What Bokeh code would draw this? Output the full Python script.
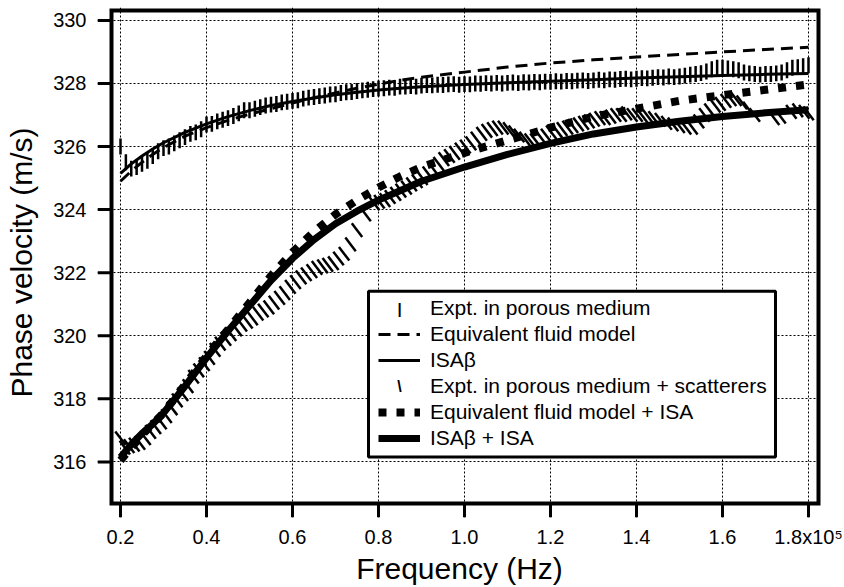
import numpy as np
from bokeh.plotting import figure
from bokeh.models import Legend, LegendItem, Range1d, Label, BoxAnnotation
from bokeh.embed import file_html
from bokeh.resources import INLINE

# ---- axis ticks ----
x_ticks = [0.2, 0.4, 0.6, 0.8, 1.0, 1.2, 1.4, 1.6, 1.8]
x_tick_labels = ["0.2", "0.4", "0.6", "0.8", "1.0", "1.2", "1.4", "1.6", "1.8x10\u2075"]
y_ticks = [316, 318, 320, 322, 324, 326, 328, 330]

# ---- model curves (frequency in 1e5 Hz) ----
model_freq = [0.2, 0.225, 0.25, 0.275, 0.3, 0.35, 0.4, 0.45, 0.5, 0.55, 0.6, 0.65, 0.7,
              0.75, 0.8, 0.85, 0.9, 1.0, 1.1, 1.2, 1.3, 1.4, 1.5, 1.6, 1.7, 1.8]
equivalent_fluid = [324.9, 325.22, 325.5, 325.75, 325.97, 326.33, 326.6, 326.83, 327.03, 327.2,
                    327.38, 327.55, 327.7, 327.85, 327.98, 328.1, 328.2, 328.36, 328.52, 328.65,
                    328.75, 328.84, 328.92, 329.0, 329.08, 329.15]
isa_beta = [325.15, 325.45, 325.7, 325.92, 326.12, 326.45, 326.72, 326.95, 327.14, 327.3,
            327.43, 327.54, 327.64, 327.72, 327.79, 327.85, 327.9, 327.97, 328.02, 328.07,
            328.12, 328.17, 328.21, 328.25, 328.29, 328.32]
equivalent_fluid_isa = [316.05, 316.45, 316.85, 317.2, 317.55, 318.45, 319.35, 320.2, 321.05, 321.9,
                        322.65, 323.3, 323.85, 324.3, 324.7, 325.05, 325.35, 325.8, 326.2, 326.6,
                        326.95, 327.2, 327.45, 327.63, 327.8, 327.97]
isa_beta_isa = [316.15, 316.55, 316.9, 317.2, 317.55, 318.4, 319.3, 320.15, 320.95, 321.75,
                322.45, 323.05, 323.55, 323.95, 324.3, 324.6, 324.9, 325.35, 325.75, 326.1,
                326.4, 326.62, 326.8, 326.95, 327.07, 327.17]

# ---- experiment in porous medium ----
expt_porous_freq = [round(0.2 + 0.0125 * i, 4) for i in range(129)]
expt_porous = [
    326.0, 325.5, 325.3, 325.35, 325.45, 325.55, 325.7, 325.85,
    325.95, 326.0, 326.1, 326.2, 326.3, 326.4, 326.45, 326.55,
    326.7, 326.72, 326.8, 326.85, 326.9, 326.97, 327.05, 327.15,
    327.15, 327.2, 327.25, 327.3, 327.33, 327.35, 327.4, 327.42,
    327.45, 327.47, 327.52, 327.55, 327.57, 327.6, 327.62, 327.65,
    327.66, 327.7, 327.72, 327.73, 327.76, 327.78, 327.8, 327.82,
    327.84, 327.85, 327.87, 327.86, 327.9, 327.9, 327.92, 327.9,
    327.93, 327.95, 327.94, 327.96, 327.95, 327.97, 327.98, 327.96,
    327.98, 327.97, 328.0, 327.99, 328.01, 328.0, 328.02, 328.0,
    328.02, 328.03, 328.01, 328.04, 328.03, 328.05, 328.04, 328.06,
    328.05, 328.07, 328.06, 328.08, 328.07, 328.09, 328.1, 328.08,
    328.1, 328.12, 328.1, 328.13, 328.12, 328.14, 328.15, 328.13,
    328.15, 328.17, 328.16, 328.18, 328.2, 328.19, 328.22, 328.2,
    328.22, 328.25, 328.28, 328.3, 328.33, 328.38, 328.45, 328.5,
    328.5, 328.48, 328.45, 328.42, 328.35, 328.32, 328.3, 328.28,
    328.3, 328.3, 328.32, 328.35, 328.42, 328.5, 328.52, 328.55,
    328.58]

# ---- experiment in porous medium + scatterers ----
expt_scat_freq = [
    0.200, 0.210, 0.220, 0.232, 0.245, 0.258, 0.270, 0.282, 0.295, 0.307,
    0.320, 0.332, 0.345, 0.357, 0.370, 0.382, 0.395, 0.407, 0.420, 0.432,
    0.445, 0.457, 0.470, 0.482, 0.495, 0.507, 0.520, 0.532, 0.545, 0.557,
    0.570, 0.582, 0.595, 0.607, 0.620, 0.632, 0.645, 0.657, 0.670, 0.682,
    0.695, 0.707, 0.720, 0.735, 0.750, 0.770, 0.790, 0.802, 0.815, 0.827,
    0.840, 0.852, 0.865, 0.877, 0.890, 0.902, 0.915, 0.927, 0.940, 0.952,
    0.965, 0.977, 0.990, 1.002, 1.015, 1.027, 1.040, 1.052, 1.065, 1.077,
    1.090, 1.102, 1.115, 1.127, 1.140, 1.152, 1.165, 1.177, 1.190, 1.202,
    1.215, 1.227, 1.240, 1.252, 1.265, 1.277, 1.290, 1.302, 1.315, 1.327,
    1.340, 1.352, 1.365, 1.377, 1.390, 1.402, 1.415, 1.427, 1.440, 1.455,
    1.470, 1.485, 1.500, 1.515, 1.530, 1.545, 1.558, 1.570, 1.583, 1.595,
    1.608, 1.620, 1.632, 1.645, 1.660, 1.675, 1.720, 1.735, 1.760, 1.775,
    1.790, 1.800]
expt_scat = [
    316.75, 316.45, 316.5, 316.55, 316.6, 316.75, 316.95, 317.1, 317.25, 317.45,
    317.7, 317.95, 318.15, 318.4, 318.7, 318.9, 319.1, 319.3, 319.55, 319.75,
    319.9, 320.05, 320.2, 320.35, 320.45, 320.55, 320.7, 320.8, 320.9, 321.05,
    321.2, 321.35, 321.55, 321.7, 321.85, 321.95, 322.05, 322.15, 322.2, 322.25,
    322.3, 322.45, 322.6, 322.9, 323.35, 323.85, 324.2, 324.25, 324.3, 324.4,
    324.5, 324.6, 324.7, 324.8, 324.9, 325.0, 325.15, 325.3, 325.45, 325.6,
    325.7, 325.8, 325.9, 326.0, 326.1, 326.25, 326.4, 326.5, 326.55, 326.6,
    326.6, 326.55, 326.45, 326.35, 326.25, 326.2, 326.2, 326.3, 326.35, 326.45,
    326.5, 326.55, 326.6, 326.65, 326.7, 326.75, 326.8, 326.85, 326.9, 326.9,
    326.95, 327.0, 327.0, 327.05, 327.0, 327.0, 326.95, 326.95, 326.9, 326.85,
    326.75, 326.7, 326.65, 326.6, 326.6, 326.8, 327.0, 327.15, 327.3, 327.35,
    327.45, 327.5, 327.5, 327.4, 327.2, 327.0, 326.9, 326.95, 327.1, 327.15,
    327.1, 327.05]

# ---- geometry ----
# The Bokeh frame reaches 14 px beyond the drawn box on the left and bottom so that
# the outward ticks and the box itself can be drawn as glyphs inside it.
TICK = 14
X0, X1 = 0.14651, 1.83023          # frame (incl. tick band)
Y0, Y1 = 314.2362, 330.4094
BOX_X0, BOX_X1 = 0.17907, 1.82326  # drawn plot box
BOX_Y0, BOX_Y1 = 314.6772, 330.315
FRAME_W, FRAME_H = 844 - 97 - 23, 587 - 7 - 66

p = figure(width=844, height=587,
           x_range=Range1d(X0, X1), y_range=Range1d(Y0, Y1),
           output_backend="svg", toolbar_location=None,
           min_border_left=97, min_border_right=23, min_border_top=7, min_border_bottom=66,
           x_axis_label="Frequency (Hz)", y_axis_label="Phase velocity (m/s)")
p.outline_line_color = None

p.xaxis.ticker = x_ticks
p.yaxis.ticker = y_ticks
p.xaxis.major_label_overrides = {t: l for t, l in zip(x_ticks, x_tick_labels)}
for ax in (p.xaxis, p.yaxis):
    ax.axis_line_color = None
    ax.major_tick_out = 0
    ax.major_tick_in = 0
    ax.minor_tick_out = 0
    ax.minor_tick_in = 0
    ax.major_label_text_font_size = "20px"
    ax.major_label_text_color = "black"
    ax.axis_label_text_font_size = "30px"
    ax.axis_label_text_font_style = "normal"
    ax.axis_label_text_color = "black"
p.xaxis.major_label_standoff = 8
p.xaxis.axis_label_standoff = 1
p.yaxis.major_label_standoff = 11
p.yaxis.axis_label_standoff = 12

p.xgrid.grid_line_color = "black"
p.ygrid.grid_line_color = "black"
p.xgrid.grid_line_dash = "2 2"
p.ygrid.grid_line_dash = "2 2"

px_x = (X1 - X0) / FRAME_W
px_y = (Y1 - Y0) / FRAME_H

# legend box (white, black border) sits under the legend entries
LEG_L, LEG_R, LEG_B, LEG_T = 271, 678, 61, 228   # px from frame bottom-left
p.add_layout(BoxAnnotation(left=X0 + LEG_L * px_x, right=X0 + LEG_R * px_x,
                           bottom=Y0 + LEG_B * px_y, top=Y0 + LEG_T * px_y,
                           fill_color="white", fill_alpha=1.0,
                           line_color="black", line_width=3, line_alpha=1.0,
                           level="underlay"))

# tick-shaped measurement markers as short segments (marker size in pixels -> data units)
f1 = np.array(expt_porous_freq)
v1 = np.array(expt_porous)
f2 = np.array(expt_scat_freq)
v2 = np.array(expt_scat)
vh = 8.0 * px_y                       # "|" half height
dh_x, dh_y = 5.2 * px_x, 6.9 * px_y   # "\" half extents

r1 = p.segment(x0=f1, y0=v1 - vh, x1=f1, y1=v1 + vh, line_color="black", line_width=2.5)
r2 = p.line(model_freq, equivalent_fluid, line_color="black", line_width=3, line_dash="12 7")
r3 = p.line(model_freq, isa_beta, line_color="black", line_width=3)
r4 = p.segment(x0=f2 - dh_x, y0=v2 + dh_y, x1=f2 + dh_x, y1=v2 - dh_y,
               line_color="black", line_width=2.5)
r5 = p.line(model_freq, equivalent_fluid_isa, line_color="black", line_width=8, line_dash="8 10")
r6 = p.line(model_freq, isa_beta_isa, line_color="black", line_width=7)

# plot box and outward ticks
p.quad(left=[BOX_X0], right=[BOX_X1], bottom=[BOX_Y0], top=[BOX_Y1],
       fill_color=None, line_color="black", line_width=4, line_join="miter")
p.segment(x0=[X0] * len(y_ticks), y0=y_ticks, x1=[BOX_X0] * len(y_ticks), y1=y_ticks,
          line_color="black", line_width=3)
p.segment(x0=x_ticks, y0=[Y0] * len(x_ticks), x1=x_ticks, y1=[BOX_Y0] * len(x_ticks),
          line_color="black", line_width=3)

# transparent copies: their legend swatches stay empty, the tick shapes are text
leg1 = p.segment(x0=f1, y0=v1, x1=f1, y1=v1, line_alpha=0)
leg4 = p.segment(x0=f2, y0=v2, x1=f2, y1=v2, line_alpha=0)

LEG_X, LEG_Y, PAD, ROW, GW = LEG_L, 56, 10, 26, 42
legend = Legend(items=[
    LegendItem(label="Expt. in porous medium", renderers=[leg1]),
    LegendItem(label="Equivalent fluid model", renderers=[r2]),
    LegendItem(label="ISA\u03b2", renderers=[r3]),
    LegendItem(label="Expt. in porous medium + scatterers", renderers=[leg4]),
    LegendItem(label="Equivalent fluid model + ISA", renderers=[r5]),
    LegendItem(label="ISA\u03b2 + ISA", renderers=[r6]),
], location=(LEG_X, LEG_Y))
legend.margin = 0
legend.padding = PAD
legend.spacing = 0
legend.glyph_width = GW
legend.glyph_height = ROW
legend.label_height = ROW
legend.label_standoff = 10
legend.label_text_font_size = "21px"
legend.label_text_color = "black"
legend.border_line_alpha = 0
legend.background_fill_alpha = 0
p.add_layout(legend)

n_items = 6
top = LEG_Y + 2 * PAD + n_items * ROW
gx = LEG_X + PAD + GW / 2
for row, ch, size in ((0, "|", "15px"), (3, "\\", "16px")):
    cy = top - PAD - ROW / 2 - row * ROW
    p.add_layout(Label(x=gx, y=cy, x_units="screen", y_units="screen", text=ch,
                       text_align="center", text_baseline="middle",
                       text_font_size=size, text_color="black", text_font_style="bold"))

open("out.html", "w").write(file_html(p, INLINE))
